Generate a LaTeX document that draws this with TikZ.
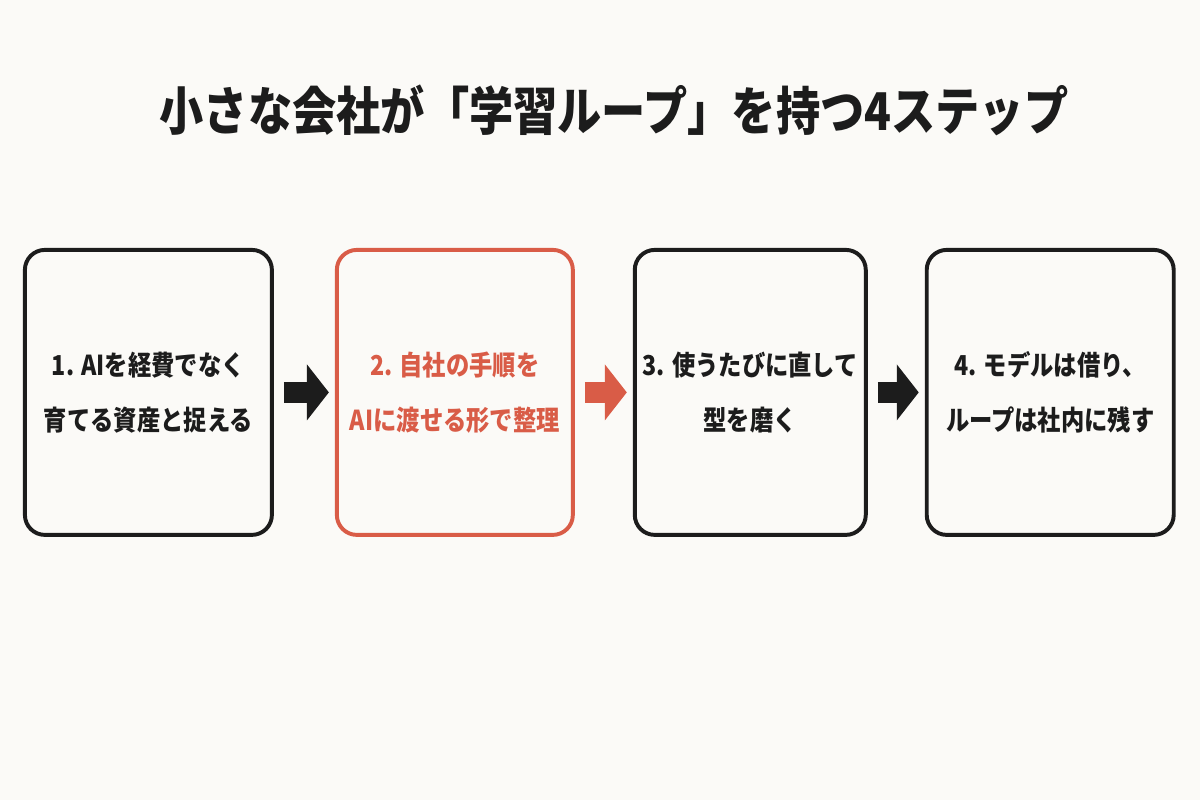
\documentclass[tikz,border=0pt]{standalone}
\usepackage{fontspec}
\setmainfont{Noto Sans CJK JP}[FakeStretch=0.85]
\usepackage{tikz}
\usetikzlibrary{arrows.meta,positioning}

\definecolor{pagebg}{HTML}{FBFAF7}
\definecolor{ink}{HTML}{1C1C1C}
\definecolor{accent}{HTML}{D95C47}

\begin{document}
\begin{tikzpicture}[
  >=Latex,
  node distance=1.45cm,
  stepbox/.style={draw=ink, text=ink, line width=2.8pt, rounded corners=0.5cm, minimum height=7.125cm, align=center, inner sep=4pt, font=\bfseries\fontsize{19.5}{39}\selectfont},
  hot/.style={draw=accent, text=accent},
  flow/.style={draw=ink, line width=0.525cm, -{Triangle[length=0.55cm, width=1.375cm]}, shorten <=0.25cm, shorten >=0.15cm}
]
\fill[pagebg] (0,0) rectangle (30,20);

\node[font=\bfseries\fontsize{37}{44}\selectfont, text=ink] (title) at (15.35,17.25) {小さな会社が「学習ループ」を持つ4ステップ};

\node[stepbox, minimum width=6.175cm] (know) at (3.71,10.19) {1. AIを経費でなく\\育てる資産と捉える};
\node[stepbox, hot, minimum width=5.9cm, right=1.525cm of know] (tidy) {2. 自社の手順を\\AIに渡せる形で整理};
\node[stepbox, minimum width=5.775cm, right=1.45cm of tidy] (polish) {3. 使うたびに直して\\型を磨く};
\node[stepbox, minimum width=6.175cm, right=1.425cm of polish] (keep) {4. モデルは借り、\\ループは社内に残す};

\draw[flow] (know) -- (tidy);
\draw[flow, draw=accent] (tidy) -- (polish);
\draw[flow] (polish) -- (keep);
\end{tikzpicture}
\end{document}
